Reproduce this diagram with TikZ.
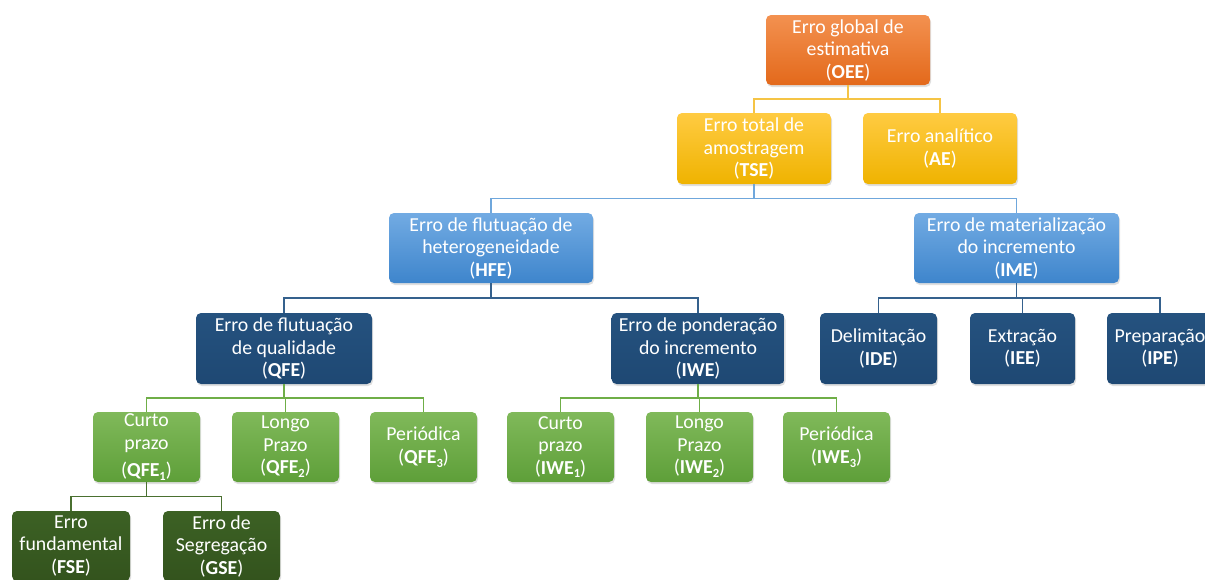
\documentclass[tikz,border=0pt]{standalone}
\usepackage{fontspec}
\setmainfont{Carlito}
\usetikzlibrary{calc,shadows}

\definecolor{orTop}{HTML}{F39150}
\definecolor{orBot}{HTML}{E3691B}
\definecolor{goTop}{HTML}{FFCB42}
\definecolor{goBot}{HTML}{EFB300}
\definecolor{lbTop}{HTML}{72ABE3}
\definecolor{lbBot}{HTML}{3E85CC}
\definecolor{dbTop}{HTML}{25527F}
\definecolor{dbBot}{HTML}{1E4873}
\definecolor{grTop}{HTML}{80B95A}
\definecolor{grBot}{HTML}{5E9F39}
\definecolor{dgTop}{HTML}{3C6124}
\definecolor{dgBot}{HTML}{33531D}
\definecolor{lnGold}{HTML}{F5C445}
\definecolor{lnBlue}{HTML}{6FA7DC}
\definecolor{lnDark}{HTML}{35618D}
\definecolor{lnGreen}{HTML}{6FAE47}
\definecolor{lnDGreen}{HTML}{4A7030}

\newcommand\sbx[1]{\raisebox{-0.4ex}{\fontsize{12.5}{12.5}\selectfont #1}}

\tikzset{
  box/.style={rounded corners=5pt, minimum height=70pt, inner sep=1pt,
    align=center, text=white, font=\fontsize{19.8}{22.5}\selectfont,
    drop shadow={opacity=0.25, shadow xshift=1pt, shadow yshift=-2pt}},
  orbox/.style={box, top color=orTop, bottom color=orBot},
  gobox/.style={box, top color=goTop, bottom color=goBot},
  lbbox/.style={box, top color=lbTop, bottom color=lbBot},
  dbbox/.style={box, top color=dbTop, bottom color=dbBot},
  grbox/.style={box, top color=grTop, bottom color=grBot},
  dgbox/.style={box, top color=dgTop, bottom color=dgBot},
  link/.style={line width=1.5pt,
    to path={(\tikztostart) -- ($(\tikztostart)!0.5!(\tikztostart |- \tikztotarget)$) -| (\tikztotarget)}},
}

\begin{document}
\begin{tikzpicture}[x=1pt, y=-1pt]
  \useasboundingbox[fill=white] (0,0) rectangle (1205,579);

  % level 0
  \node[orbox, minimum width=164pt] (oee) at (848,50)
    {Erro global de\\estimativa\\(\textbf{OEE})};

  % level 1
  \node[gobox, minimum width=154pt, minimum height=71pt] (tse) at (754,148.5)
    {Erro total de\\amostragem\\(\textbf{TSE})};
  \node[gobox, minimum width=154pt, minimum height=71pt] (ae) at (940,148.5)
    {Erro analítico\\(\textbf{AE})};

  % level 2
  \node[lbbox, minimum width=204pt] (hfe) at (491,248)
    {Erro de flutuação de\\heterogeneidade\\(\textbf{HFE})};
  \node[lbbox, minimum width=205pt] (ime) at (1016.5,248)
    {Erro de materialização\\do incremento\\(\textbf{IME})};

  % level 3
  \node[dbbox, minimum width=176pt, minimum height=71pt] (qfe) at (284,348.5)
    {Erro de flutuação\\de qualidade\\(\textbf{QFE})};
  \node[dbbox, minimum width=173pt, minimum height=71pt] (iwe) at (698,348.5)
    {Erro de ponderação\\do incremento\\(\textbf{IWE})};
  \node[dbbox, minimum width=117pt, minimum height=71pt] (ide) at (878.5,348.5)
    {Delimitação\\(\textbf{IDE})};
  \node[dbbox, minimum width=105pt, minimum height=71pt] (iee) at (1022.5,348.5)
    {Extração\\(\textbf{IEE})};
  \node[dbbox, minimum width=106pt, minimum height=71pt] (ipe) at (1160,348.5)
    {Preparação\\(\textbf{IPE})};

  % level 4
  \node[grbox, minimum width=107pt] (qfe1) at (146.5,447)
    {Curto\\prazo\\[5pt](\textbf{QFE\sbx{1}})};
  \node[grbox, minimum width=107pt] (qfe2) at (285.5,447)
    {Longo\\Prazo\\(\textbf{QFE\sbx{2}})};
  \node[grbox, minimum width=107pt] (qfe3) at (423.5,447)
    {Periódica\\(\textbf{QFE\sbx{3}})};
  \node[grbox, minimum width=107pt] (iwe1) at (560.5,447)
    {Curto\\prazo\\(\textbf{IWE\sbx{1}})};
  \node[grbox, minimum width=107pt] (iwe2) at (699.5,447)
    {Longo\\Prazo\\(\textbf{IWE\sbx{2}})};
  \node[grbox, minimum width=107pt] (iwe3) at (836.5,447)
    {Periódica\\(\textbf{IWE\sbx{3}})};

  % level 5
  \node[dgbox, minimum width=118pt] (fse) at (71,546)
    {Erro\\fundamental\\(\textbf{FSE})};
  \node[dgbox, minimum width=117pt] (gse) at (221.5,546)
    {Erro de\\Segregação\\(\textbf{GSE})};

  % connectors
  \draw[link, lnGold] (oee.south) to (tse.north) (oee.south) to (ae.north);
  \draw[link, lnBlue] (tse.south) to (hfe.north) (tse.south) to (ime.north);
  \draw[link, lnDark] (hfe.south) to (qfe.north) (hfe.south) to (iwe.north);
  \draw[link, lnDark] (ime.south) to (ide.north) (ime.south) to (iee.north)
                      (ime.south) to (ipe.north);
  \draw[link, lnGreen] (qfe.south) to (qfe1.north) (qfe.south) to (qfe2.north)
                       (qfe.south) to (qfe3.north);
  \draw[link, lnGreen] (iwe.south) to (iwe1.north) (iwe.south) to (iwe2.north)
                       (iwe.south) to (iwe3.north);
  \draw[link, lnDGreen] (qfe1.south) to (fse.north) (qfe1.south) to (gse.north);
\end{tikzpicture}
\end{document}
